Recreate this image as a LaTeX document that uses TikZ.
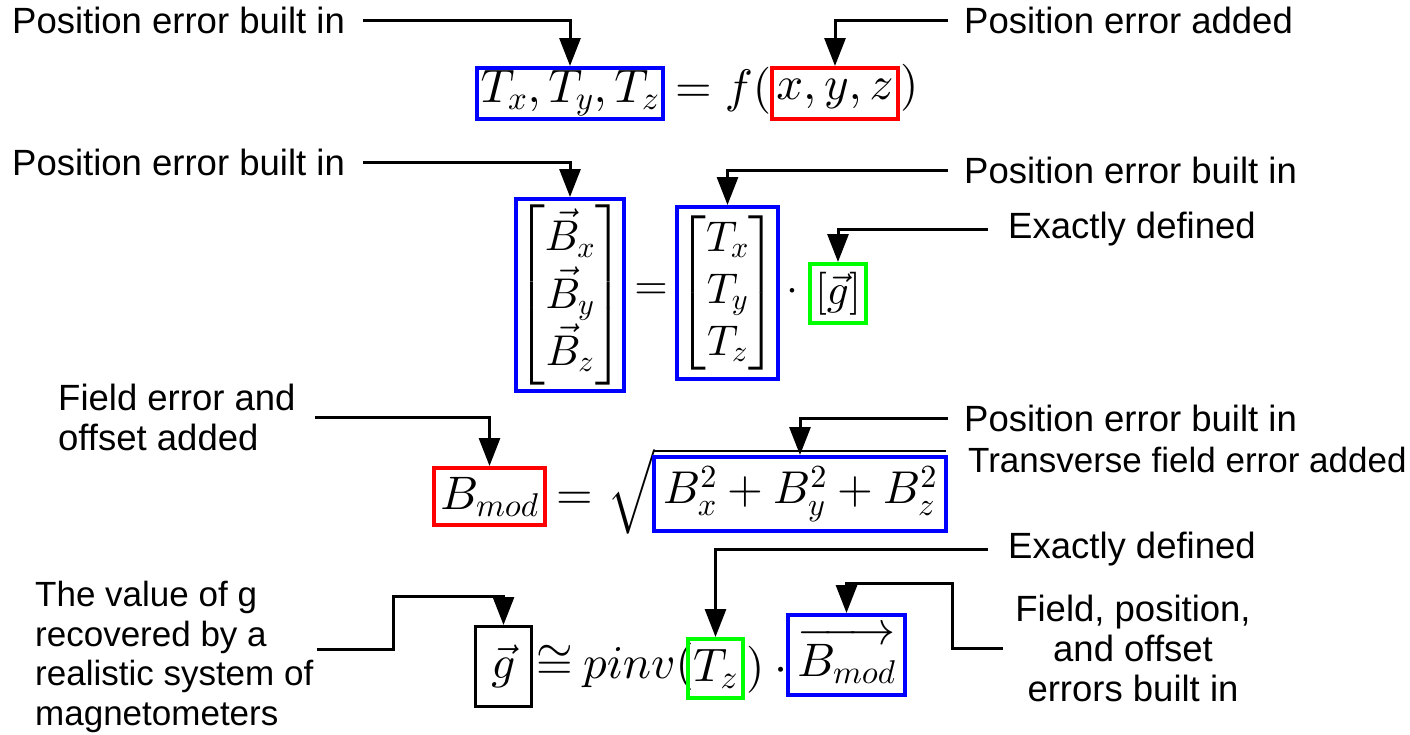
\documentclass[tikz,border=0pt]{standalone}
\usepackage{amsmath,amssymb}
\usepackage[no-math]{fontspec}
\setmainfont{Liberation Sans}
% scalable math fonts for the large formulas
\DeclareFontShape{OT1}{cmr}{m}{n}{<->cmr10}{}
\DeclareFontShape{OML}{cmm}{m}{it}{<->cmmi10}{}
\DeclareFontShape{OMS}{cmsy}{m}{n}{<->cmsy10}{}
\DeclareFontShape{OMX}{cmex}{m}{n}{<->cmex10}{}
\usepackage{xcolor}
\usepackage{tikz}
\usetikzlibrary{arrows.meta,positioning,calc}

\begin{document}
\begin{tikzpicture}[x=1pt, y=-1pt,
  lbl/.style={font=\fontsize{36.5}{40}\selectfont, inner sep=0pt},
  lbls/.style={font=\fontsize{35}{39.5}\selectfont, inner sep=0pt},
  eq/.style={font=\fontsize{47}{56}\selectfont, inner sep=0pt},
  eqm/.style={font=\fontsize{43}{52}\selectfont, inner sep=0pt},
  bbox/.style={draw=blue, line width=4pt},
  rbox/.style={draw=red, line width=4pt},
  gbox/.style={draw=green, line width=4pt},
  kbox/.style={draw=black, line width=3pt},
  arr/.style={-{Triangle[length=28pt,width=21pt]}, line width=3pt}
]
\useasboundingbox (0,0) rectangle (1410,734);

% row 1: T = f(x,y,z)
\node[eq, bbox, minimum width=186pt, minimum height=51pt] (txyz) at (570,93.5) {$T_x,T_y,T_z$};
\node[eq, right=10pt of txyz.base east, anchor=base west] (fof) {$=f($};
\node[eq, rbox, minimum width=126pt, minimum height=51pt] (xyz) at (835,93.5) {$x,y,z$};
\node[eq, right=0pt of xyz.base east, anchor=base west] (rp1) {$)$};

\node[lbl, anchor=west] (pos1) at (12,20) {Position error built in};
\node[lbl, anchor=west] (posadd) at (964,20) {Position error added};
\draw[arr] ([xshift=18]pos1.east) -| (txyz.north);
\draw[arr] ([xshift=-16]posadd.west) -| (xyz.north);

% row 2: B = T . g
\node[eqm, bbox, minimum width=100pt, minimum height=192pt] (bvec) at (570,295)
  {$\begin{bmatrix}\vec{B}_x\\ \vec{B}_y\\ \vec{B}_z\end{bmatrix}$};
\node[eqm] (eq2) at (651,292) {$=$};
\node[eqm, bbox, minimum width=85pt, minimum height=172pt] (tmat) at (727.5,293)
  {$\begin{bmatrix}T_x\\ T_y\\ T_z\end{bmatrix}$};
\node[eqm] (dot2) at (792,292) {$\cdot$};
\node[eqm, gbox, minimum width=56pt, minimum height=59pt] (gvec) at (838,293.5) {$[\vec{g}]$};

\node[lbl, anchor=west] (pos2l) at (12,162) {Position error built in};
\node[lbl, anchor=west] (pos2r) at (964,170) {Position error built in};
\node[lbl, anchor=west] (exact1) at (1008,229) {Exactly defined};
\draw[arr] ([xshift=18]pos2l.east) -| (bvec.north);
\draw[arr] ([xshift=-16]pos2r.west) -| (tmat.north);
\draw[arr] ([xshift=-20]exact1.west) -| (gvec.north);

% row 3: B_mod = sqrt(...)
\node[eq, rbox, minimum width=111pt, minimum height=57pt] (bmod) at (489.5,496.5) {$B_{mod}$};
\node[eq, right=9pt of bmod.base east, anchor=base west] (eq3) {$=$};
\node[eq, anchor=north west] (rad) at (607,448) {$\sqrt{\vphantom{\big|}\hspace{292pt}}$};
\node[eq, bbox, font=\fontsize{46}{55}\selectfont, minimum width=292pt, minimum height=74pt] (bsum) at (800,494) {$B_x^2+B_y^2+B_z^2$};

\node[lbl, anchor=west, align=left] (fea) at (58,417) {Field error and\\offset added};
\node[lbl, anchor=west] (pos3) at (964,418) {Position error built in};
\node[lbls, anchor=west] (trans) at (968,460) {Transverse field error added};
\draw[arr] ([xshift=19]fea.east) -| (bmod.north);
\draw[arr] ([xshift=-16]pos3.west) -| (bsum.north);

% row 4: g ~ pinv(T_z) . B_mod
\node[eq, kbox, minimum width=56pt, minimum height=80pt] (gres) at (503.5,666.5) {$\vec{g}$};
\node[eq, right=3pt of gres.base east, anchor=base west] (apx) {$\cong$};
\node[eq, right=10pt of apx.base east, anchor=base west] (pinv) {$pinv($};
\node[eq, gbox, minimum width=55pt, minimum height=59pt] (tz) at (715.5,668.5) {$T_z$};
\node[eq, right=1pt of tz.base east, anchor=base west] (rp4) {$)$};
\node[eq, right=10pt of rp4.base east, anchor=base west] (dot4) {$\cdot$};
\node[eq, bbox, minimum width=117pt, minimum height=80pt] (bmv) at (846.5,655) {$\overrightarrow{B_{mod}}$};

\node[lbls, anchor=west, align=left] (gval) at (35,657)
  {The value of g\\recovered by a\\realistic system of\\magnetometers};
\node[lbl, anchor=west] (exact2) at (1008,549) {Exactly defined};
\node[lbl, align=center] (fpo) at (1133,648) {Field, position,\\and offset\\errors built in};
\coordinate (k2) at (393,596);
\coordinate (k3) at (952,583);
\draw[arr] ([xshift=3,yshift=8]gval.east) -| (k2) -| (gres.north);
\draw[arr] ([xshift=-20]exact2.west) -| (tz.north);
\draw[arr] ([xshift=-12]fpo.west) -| (k3) -| (bmv.north);
\end{tikzpicture}
\end{document}
